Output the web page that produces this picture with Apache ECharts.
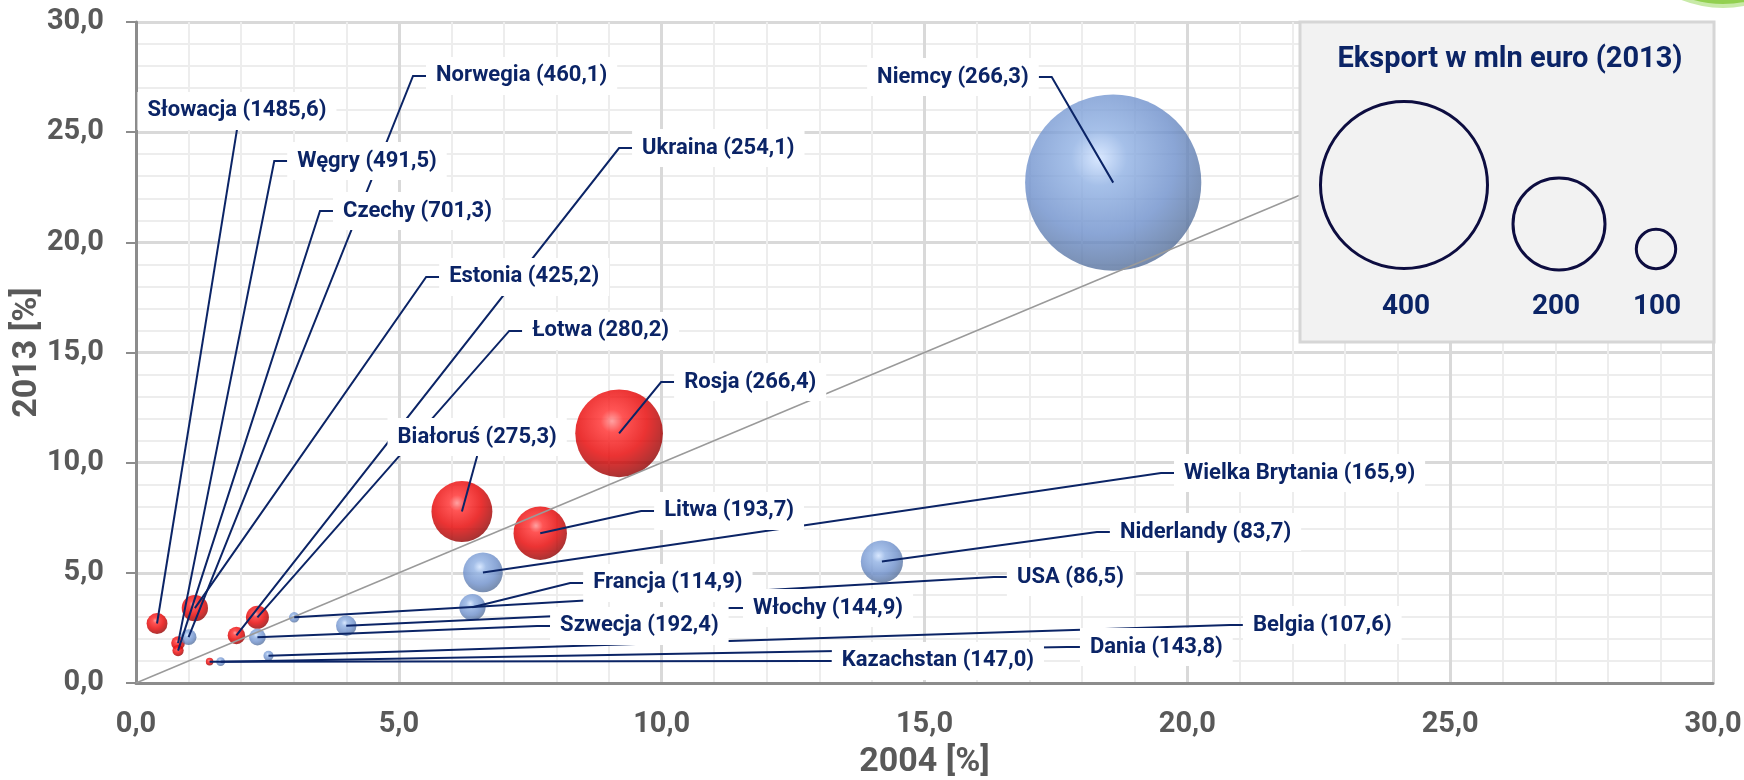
<!DOCTYPE html>
<html>
<head>
<meta charset="utf-8">
<script src="https://cdn.jsdelivr.net/npm/echarts@6/dist/echarts.min.js"></script>
<style>
html,body{margin:0;padding:0;background:#ffffff;}
#chart{width:1744px;height:780px;}
</style>
</head>
<body>
<div id="chart"></div>
<script>
// ---------------- DATA ----------------
const countries = ['Rosja','Białoruś','Litwa','Estonia','Łotwa','Ukraina','Słowacja','Węgry','Czechy','Kazachstan',
                   'Niemcy','Wielka Brytania','Niderlandy','Francja','USA','Włochy','Szwecja','Belgia','Dania','Norwegia'];
// colour group: 0 = red spheres, 1 = blue spheres
const colourGroup = [0,0,0,0,0,0,0,0,0,0, 1,1,1,1,1,1,1,1,1,1];
// share of exports in 2004 [%] (x) and 2013 [%] (y)
const share2004 = [9.19, 6.20, 7.69, 1.12, 2.31, 1.91, 0.40, 0.80, 0.80, 1.40,
                   18.59, 6.60, 14.19, 6.40, 3.01, 4.00, 2.31, 2.52, 1.61, 1.00];
const share2013 = [11.33, 7.78, 6.80, 3.40, 2.98, 2.16, 2.70, 1.81, 1.47, 0.97,
                   22.71, 5.02, 5.51, 3.44, 2.98, 2.60, 2.08, 1.24, 0.97, 2.08];
// export in mln euro (2013) -> bubble size
const export2013 = [210, 146, 128, 63, 55, 42, 50, 33, 27, 18,
                    422, 95, 101, 63, 25, 49, 40, 24, 21, 38];
// value shown in brackets
const bracketValue = [266.4, 275.3, 193.7, 425.2, 280.2, 254.1, 1485.6, 491.5, 701.3, 147.0,
                      266.3, 165.9, 83.7, 114.9, 86.5, 144.9, 192.4, 107.6, 143.8, 460.1];
const legendValues = [400, 200, 100];
const legendTitle = 'Eksport w mln euro (2013)';
const xAxisName = '2004 [%]';
const yAxisName = '2013 [%]';

// ---------------- LAYOUT (label anchors in axis units, side of text) ----------------
// side: 0 = text right of hook, 1 = text left of hook, 2 = text above anchor
const labelAnchorX = [9.99, 6.49, 9.61, 5.52, 7.10, 9.19, 1.92, 2.63, 3.50, 12.99,
                      17.42, 19.50, 18.28, 8.26, 16.32, 11.30, 7.63, 20.81, 17.71, 5.27];
const labelAnchorY = [13.66, 10.30, 7.81, 18.43, 15.98, 24.28, 25.10, 23.69, 21.42, 1.00,
                      27.50, 9.53, 6.85, 4.54, 4.81, 3.40, 2.59, 2.63, 1.63, 27.55];
const labelSide = [0,2,0,0,0,0,2,0,0,0, 1,0,0,0,0,0,0,0,0,0];

// ---------------- STYLE ----------------
const PX_PER_MLN = 167 / 400;
const HOOK = 13;
const NAVY = '#0b2466';
const GREY = '#595959';
const FONT = 'Roboto, "Liberation Sans", sans-serif';

const fmt1 = v => v.toFixed(1).replace('.', ',');

const redBall = {type:'radial', x:0.42, y:0.36, r:0.72, colorStops:[
  {offset:0, color:'#ff8a8a'},{offset:0.18, color:'#ff2a2a'},{offset:0.55, color:'#e60000'},
  {offset:0.85, color:'#a00000'},{offset:1, color:'#6e0000'}]};
const blueBall = {type:'radial', x:0.42, y:0.36, r:0.72, colorStops:[
  {offset:0, color:'#cfe2ff'},{offset:0.22, color:'#8fb0e3'},{offset:0.6, color:'#6d8fcb'},
  {offset:0.88, color:'#58739f'},{offset:1, color:'#4a5f88'}]};

function bubbleData(g){
  const out = [];
  countries.forEach((c,i)=>{ if(colourGroup[i]===g) out.push({name:c, value:[share2004[i], share2013[i], export2013[i]]}); });
  return out;
}
const leaderData = countries.map((c,i)=>[share2004[i], share2013[i], labelAnchorX[i], labelAnchorY[i], labelSide[i]]);
const labelText = countries.map((c,i)=> c + ' (' + fmt1(bracketValue[i]) + ')');

function renderLeader(params, api){
  const p0 = api.coord([api.value(0), api.value(1)]);
  const p1 = api.coord([api.value(2), api.value(3)]);
  const side = api.value(4);
  const pts = [p0, p1];
  if (side === 0) pts.push([p1[0] + HOOK, p1[1]]);
  else if (side === 1) pts.push([p1[0] - HOOK, p1[1]]);
  return {type:'polyline', shape:{points:pts}, style:{stroke:NAVY, lineWidth:2, fill:null}};
}
function renderLabel(params, api){
  const p1 = api.coord([api.value(2), api.value(3)]);
  const side = api.value(4);
  let x = p1[0], y = p1[1], align = 'left', va = 'middle';
  if (side === 0) { x += HOOK; }
  else if (side === 1) { x -= HOOK; align = 'right'; }
  else { align = 'center'; va = 'bottom'; }
  return {type:'text', x:x, y:y, style:{text:labelText[params.dataIndex], fontFamily:FONT, fontWeight:'bold',
    fontSize:22, fill:NAVY, backgroundColor:'#ffffff', padding:[8,10], align:align, verticalAlign:va}};
}

const axisCommon = {
  type:'value', min:0, max:30, interval:5,
  axisLine:{show:true, onZero:false, lineStyle:{color:'#8c8c8c', width:3}},
  axisLabel:{formatter:fmt1, color:GREY, fontSize:29, fontWeight:'bold', fontFamily:FONT},
  splitLine:{show:true, lineStyle:{color:'#d9d9d9', width:3}},
  minorTick:{show:false, splitNumber:5},
  minorSplitLine:{show:true, lineStyle:{color:'#ededed', width:2}},
  nameLocation:'middle',
  nameMoveOverlap:false,
  nameTextStyle:{color:GREY, fontSize:34, fontWeight:'bold', fontFamily:FONT}
};

const chart = echarts.init(document.getElementById('chart'), null, {renderer:'canvas'});
chart.setOption({
  animation:false,
  backgroundColor:'#ffffff',
  grid:{left:136, right:31, top:22, bottom:97, containLabel:false, outerBoundsMode:'none',
        show:true, borderColor:'#8c8c8c', borderWidth:2, backgroundColor:'transparent'},
  xAxis:Object.assign({}, axisCommon, {name:xAxisName, nameGap:62, axisTick:{show:false},
    axisLabel:Object.assign({}, axisCommon.axisLabel, {margin:27})}),
  yAxis:Object.assign({}, axisCommon, {name:yAxisName, nameGap:92,
    axisTick:{show:true, length:10, lineStyle:{color:'#8c8c8c', width:2}},
    axisLabel:Object.assign({}, axisCommon.axisLabel, {margin:32})}),
  series:[
    {type:'scatter', name:'wschód', z:2, data:bubbleData(0), symbol:'circle',
     symbolSize:v=>v[2]*PX_PER_MLN, itemStyle:{color:redBall}},
    {type:'scatter', name:'zachód', z:2, data:bubbleData(1), symbol:'circle',
     symbolSize:v=>v[2]*PX_PER_MLN, itemStyle:{color:blueBall}},
    {type:'line', z:3, data:[[0,0],[30,30]], symbol:'none', silent:true,
     lineStyle:{color:'#9a9a9a', width:1.5}},
    {type:'custom', z:4, renderItem:renderLeader, data:leaderData, encode:{x:[0,2], y:[1,3]}, silent:true},
    {type:'custom', z:5, renderItem:renderLabel, data:leaderData, encode:{x:[0,2], y:[1,3]}, silent:true}
  ],
  graphic:[
    {type:'circle', z:100, shape:{cx:1723, cy:-105, r:111}, style:{fill:'#92d050', stroke:'#c8eaa8', lineWidth:4}},
    {type:'rect', z:100, shape:{x:1300, y:22, width:414, height:320}, style:{fill:'#f2f2f2', stroke:'#d6d6d6', lineWidth:3}},
    {type:'text', z:101, x:1510, y:60, style:{text:legendTitle, fontFamily:FONT, fontWeight:'bold', fontSize:29,
      fill:NAVY, align:'center', verticalAlign:'middle'}},
    {type:'circle', z:101, shape:{cx:1404, cy:185, r:83.5}, style:{fill:'none', stroke:'#0d0d40', lineWidth:3}},
    {type:'circle', z:101, shape:{cx:1559, cy:224, r:46}, style:{fill:'none', stroke:'#0d0d40', lineWidth:3}},
    {type:'circle', z:101, shape:{cx:1656, cy:249, r:19.7}, style:{fill:'none', stroke:'#0d0d40', lineWidth:3}},
    {type:'text', z:101, x:1406, y:307, style:{text:String(legendValues[0]), fontFamily:FONT, fontWeight:'bold', fontSize:28, fill:NAVY, align:'center', verticalAlign:'middle'}},
    {type:'text', z:101, x:1556, y:307, style:{text:String(legendValues[1]), fontFamily:FONT, fontWeight:'bold', fontSize:28, fill:NAVY, align:'center', verticalAlign:'middle'}},
    {type:'text', z:101, x:1657, y:307, style:{text:String(legendValues[2]), fontFamily:FONT, fontWeight:'bold', fontSize:28, fill:NAVY, align:'center', verticalAlign:'middle'}}
  ]
});
</script>
</body>
</html>
